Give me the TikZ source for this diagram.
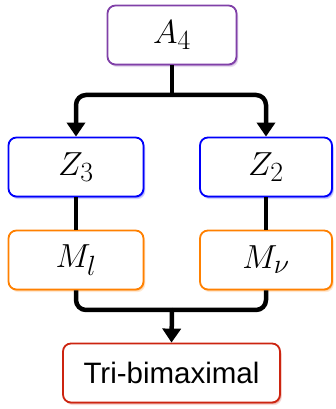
\RequirePackage{fix-cm}
\documentclass[tikz,border=0pt]{standalone}
\usepackage{graphicx}
\usepackage{fontspec}
\newfontfamily\trifont{Liberation Sans}
\usetikzlibrary{arrows.meta,shadows}
\definecolor{cpurple}{RGB}{128,64,168}
\definecolor{cblue}{RGB}{0,0,250}
\definecolor{corange}{RGB}{255,128,0}
\definecolor{cred}{RGB}{204,36,16}
\newcommand\bigmath[1]{\scalebox{1.34}{$#1$}}
\tikzset{
  box/.style={draw=#1, line width=1.8pt, rounded corners=8pt, fill=white,
    minimum height=59pt, inner sep=0pt,
    font=\fontsize{24.88}{30}\selectfont,
    drop shadow={shadow xshift=1.8pt, shadow yshift=-2.6pt, fill=#1, opacity=0.18},
    drop shadow={shadow xshift=1pt, shadow yshift=-1.5pt, fill=#1, opacity=0.3}},
  conn/.style={line width=4.5pt, black},
  arr/.style={conn, -{Triangle[width=18pt,length=14pt]}},
}
\begin{document}
\begin{tikzpicture}[x=1pt,y=1pt]
\useasboundingbox (0,0) rectangle (336,409);
\node[box=cpurple, minimum width=129pt] (A4) at (172,374) {\bigmath{A_4}};
\node[box=cblue, minimum width=135pt] (Z3) at (76,242) {\bigmath{Z_3}};
\node[box=cblue, minimum width=132pt] (Z2) at (266,242) {\bigmath{Z_2}};
\node[box=corange, minimum width=135pt] (Ml) at (76,149) {\bigmath{M_l}};
\node[box=corange, minimum width=132pt] (Mn) at (266,149) {\bigmath{M_\nu}};
\node[box=cred, minimum width=217pt, font=\trifont\fontsize{29.5}{35}\selectfont] (Tri) at (171.5,36) {Tri-bimaximal};
\coordinate (s1) at (172,314);
\coordinate (s2) at (172,99);
\draw[conn] (A4.south) -- (s1);
\draw[arr, rounded corners=10pt] (s1) -| (Z3.north);
\draw[arr, rounded corners=10pt] (s1) -| (Z2.north);
\draw[conn] (Z3.south) -- (Ml.north);
\draw[conn] (Z2.south) -- (Mn.north);
\draw[conn, rounded corners=10pt] (Ml.south) |- (s2);
\draw[conn, rounded corners=10pt] (Mn.south) |- (s2);
\draw[arr] (s2) -- (Tri.north);
\end{tikzpicture}
\end{document}
